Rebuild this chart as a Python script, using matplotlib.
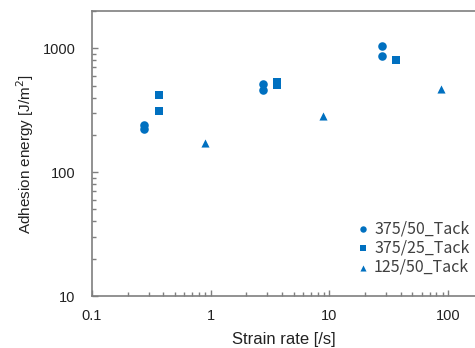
import numpy as np
import matplotlib.pyplot as plt

# strain rate [/s] and adhesion energy [J/m2]
rate_375_50 = [0.276, 0.276, 2.76, 2.76, 27.7, 27.7]
energy_375_50 = [242, 224, 519, 464, 1044, 862]
rate_375_25 = [0.367, 0.367, 3.6, 3.6, 36.2]
energy_375_25 = [418, 310, 532, 506, 805]
rate_125_50 = [0.89, 8.77, 87.7]
energy_125_50 = [173, 283, 467]
labels = ['375/50_Tack', '375/25_Tack', '125/50_Tack']

color = '#0070C0'
spine_color = '#7f7f7f'

fig = plt.figure(figsize=(4.75, 3.48), dpi=100)
ax = fig.add_axes([92 / 475, 1 - 296 / 348, (475 - 92) / 475, (296 - 11) / 348])

ax.scatter(rate_375_50, energy_375_50, marker='o', s=38, color=color, label=labels[0], linewidths=0)
ax.scatter(rate_375_25, energy_375_25, marker='s', s=34, color=color, label=labels[1], linewidths=0)
ax.scatter(rate_125_50, energy_125_50, marker='^', s=34, color=color, label=labels[2], linewidths=0)

ax.set_xscale('log')
ax.set_yscale('log')
ax.set_xlim(0.1, 169)
ax.set_ylim(10, 2000)
ax.set_xticks([0.1, 1, 10, 100])
ax.set_xticklabels(['0.1', '1', '10', '100'])
ax.set_yticks([10, 100, 1000])
ax.set_yticklabels(['10', '100', '1000'])

for side in ['left', 'bottom', 'top']:
    ax.spines[side].set_color(spine_color)
    ax.spines[side].set_linewidth(1.2)
ax.spines['right'].set_visible(False)

ax.tick_params(which='both', direction='in', color=spine_color, width=1,
               labelsize=10.5, labelcolor='#222222')
ax.tick_params(axis='x', pad=9)
ax.tick_params(axis='y', pad=12)
ax.tick_params(which='major', length=4)
ax.tick_params(which='minor', length=3)
ax.tick_params(axis='x', which='both', top=False)
ax.tick_params(axis='y', which='both', right=False)

for lab in ax.get_xticklabels() + ax.get_yticklabels():
    lab.set_family('Liberation Sans')

ax.set_xlabel('Strain rate [/s]', fontsize=12, family='Liberation Sans', labelpad=7, color='#222222')
ax.set_ylabel('Adhesion energy [J/m$^2$]', fontsize=11, family='Liberation Sans', labelpad=5, color='#222222')

leg = ax.legend(loc='lower right', bbox_to_anchor=(1.023, 0.02), frameon=False,
                handletextpad=0.1, labelspacing=0.15, handlelength=1.2, markerscale=0.75,
                prop={'family': ['Noto Sans CJK JP', 'DejaVu Sans'], 'size': 11.5})
for t in leg.get_texts():
    t.set_color('#404040')

fig.savefig('out.png', dpi=100)
